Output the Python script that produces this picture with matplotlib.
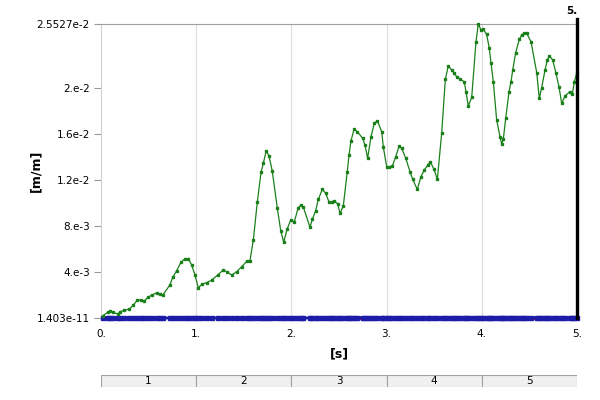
import matplotlib
matplotlib.use('Agg')
import matplotlib.pyplot as plt
import numpy as np

# green curve
t_green = [0.02, 0.070, 0.095, 0.129, 0.175, 0.200, 0.245, 0.297, 0.339, 0.381,
           0.417, 0.455, 0.491, 0.539, 0.585, 0.620, 0.648, 0.725, 0.753, 0.795,
           0.840, 0.882, 0.917, 0.953, 0.987, 1.022, 1.064, 1.110, 1.163, 1.226,
           1.285, 1.320, 1.373, 1.425, 1.478, 1.530, 1.565, 1.600, 1.642, 1.681,
           1.705, 1.736, 1.765, 1.799, 1.852, 1.888, 1.919, 1.954, 1.993, 2.030,
           2.072, 2.101, 2.125, 2.195, 2.220, 2.255, 2.283, 2.325, 2.360, 2.395,
           2.423, 2.451, 2.486, 2.511, 2.545, 2.587, 2.605, 2.626, 2.658, 2.692,
           2.749, 2.773, 2.801, 2.836, 2.871, 2.902, 2.949, 2.965, 3.001, 3.025,
           3.060, 3.096, 3.132, 3.159, 3.201, 3.246, 3.274, 3.322, 3.361, 3.396,
           3.432, 3.459, 3.498, 3.533, 3.579, 3.617, 3.648, 3.684, 3.711, 3.736,
           3.771, 3.816, 3.834, 3.858, 3.894, 3.939, 3.963, 3.992, 4.016, 4.051,
           4.079, 4.097, 4.121, 4.156, 4.191, 4.209, 4.226, 4.251, 4.286, 4.307,
           4.325, 4.356, 4.394, 4.419, 4.446, 4.472, 4.517, 4.577, 4.604, 4.629,
           4.664, 4.688, 4.709, 4.745, 4.779, 4.811, 4.839, 4.874, 4.926, 4.951,
           4.972, 4.997]
v_green = [0.00020, 0.00049, 0.00061, 0.00049, 0.00035, 0.00055, 0.00067, 0.00078, 0.00110, 0.00156,
           0.00156, 0.00148, 0.00180, 0.00200, 0.00220, 0.00206, 0.00197, 0.00289, 0.00353, 0.00411,
           0.00484, 0.00515, 0.00515, 0.00460, 0.00373, 0.00263, 0.00295, 0.00307, 0.00330, 0.00373,
           0.00417, 0.00402, 0.00373, 0.00402, 0.00445, 0.00491, 0.00499, 0.00677, 0.01007, 0.01265,
           0.01343, 0.01453, 0.01407, 0.01276, 0.00953, 0.00758, 0.00657, 0.00770, 0.00851, 0.00834,
           0.00959, 0.00979, 0.00964, 0.00788, 0.00857, 0.00932, 0.01031, 0.01117, 0.01083, 0.01007,
           0.01007, 0.01018, 0.00990, 0.00909, 0.00972, 0.01270, 0.01415, 0.01539, 0.01638, 0.01618,
           0.01560, 0.01502, 0.01387, 0.01574, 0.01691, 0.01713, 0.01618, 0.01487, 0.01314, 0.01309,
           0.01320, 0.01401, 0.01493, 0.01473, 0.01387, 0.01270, 0.01204, 0.01117, 0.01227, 0.01285,
           0.01328, 0.01357, 0.01291, 0.01204, 0.01609, 0.02073, 0.02188, 0.02153, 0.02125, 0.02095,
           0.02073, 0.02052, 0.01965, 0.01841, 0.01916, 0.02399, 0.02553, 0.02501, 0.02507, 0.02462,
           0.02342, 0.02212, 0.02052, 0.01719, 0.01574, 0.01511, 0.01552, 0.01734, 0.01965, 0.02052,
           0.02153, 0.02304, 0.02420, 0.02457, 0.02472, 0.02472, 0.02399, 0.02130, 0.01908, 0.02000,
           0.02153, 0.02240, 0.02275, 0.02240, 0.02125, 0.02008, 0.01864, 0.01928, 0.01965, 0.01945,
           0.02052, 0.02125]

# blue and red curves stay near zero
t_blue = t_green
v_blue = [0.0] * 54 + [0.00004] * (len(t_green) - 54)
t_red = [2.195, 5.0]
v_red = [0.0, 0.0]

y_ticks = [1.403e-11, 4e-3, 8e-3, 1.2e-2, 1.6e-2, 2e-2, 2.5527e-2]
y_labels = ['1.403e-11', '4.e-3', '8.e-3', '1.2e-2', '1.6e-2', '2.e-2', '2.5527e-2']
x_ticks = [0, 1, 2, 3, 4, 5]
x_labels = ['0.', '1.', '2.', '3.', '4.', '5.']
cells = ['1', '2', '3', '4', '5']

plt.rcParams['font.family'] = 'DejaVu Sans'
plt.rcParams['font.size'] = 7.5

fig = plt.figure(figsize=(6, 4), dpi=100)
ax = fig.add_axes([101/600, 82/400, 476/600, 294/400])

for x in [1, 2, 3, 4]:
    ax.axvline(x, color='#dcdcdc', lw=0.8, zorder=0)

ax.plot(t_red, v_red, color='#d01818', lw=2.4, clip_on=False, zorder=2)
ax.plot(t_blue, v_blue, color='#1c1ca8', lw=2.0, marker='s', markersize=2.3,
        clip_on=False, zorder=3)
ax.plot(t_green, v_green, color='#1a801a', lw=0.9, marker='s', markersize=1.8,
        clip_on=False, zorder=4)

# cursor at the end
ax.axvline(5.0, ymin=0, ymax=1.017, color='black', lw=2.4, clip_on=False, zorder=5)
ax.text(5.0, 0.0262, '5.', ha='right', va='bottom', fontweight='bold', fontsize=7.5)

ax.set_xlim(0, 5)
ax.set_ylim(1.403e-11, 2.5527e-2)
ax.set_yticks(y_ticks)
ax.set_yticklabels(y_labels)
ax.set_xticks(x_ticks)
ax.set_xticklabels(x_labels)
ax.tick_params(axis='y', length=5, color='#999999', pad=3)
ax.tick_params(axis='x', length=0, pad=8)

ax.spines['right'].set_visible(False)
ax.spines['bottom'].set_visible(False)
ax.spines['left'].set_color('#d0d0d0')
ax.spines['top'].set_color('#a0a0a0')

ax.set_xlabel('[s]', fontweight='bold', fontsize=9, labelpad=6)
ax.set_ylabel('[m/m]', fontweight='bold', fontsize=9, labelpad=-4)

# step bar under the chart
bar = fig.add_axes([101/600, 13/400, 476/600, 12/400])
for i, c in enumerate(cells):
    bar.barh(0, 1, left=i, height=1, color='#f0f0f0', edgecolor='#a0a0a0', lw=0.8)
    bar.text(i + 0.5, 0, c, ha='center', va='center', fontsize=7.5)
bar.set_xlim(0, 5)
bar.set_ylim(-0.5, 0.5)
bar.axis('off')

fig.savefig('out.png', dpi=100)
